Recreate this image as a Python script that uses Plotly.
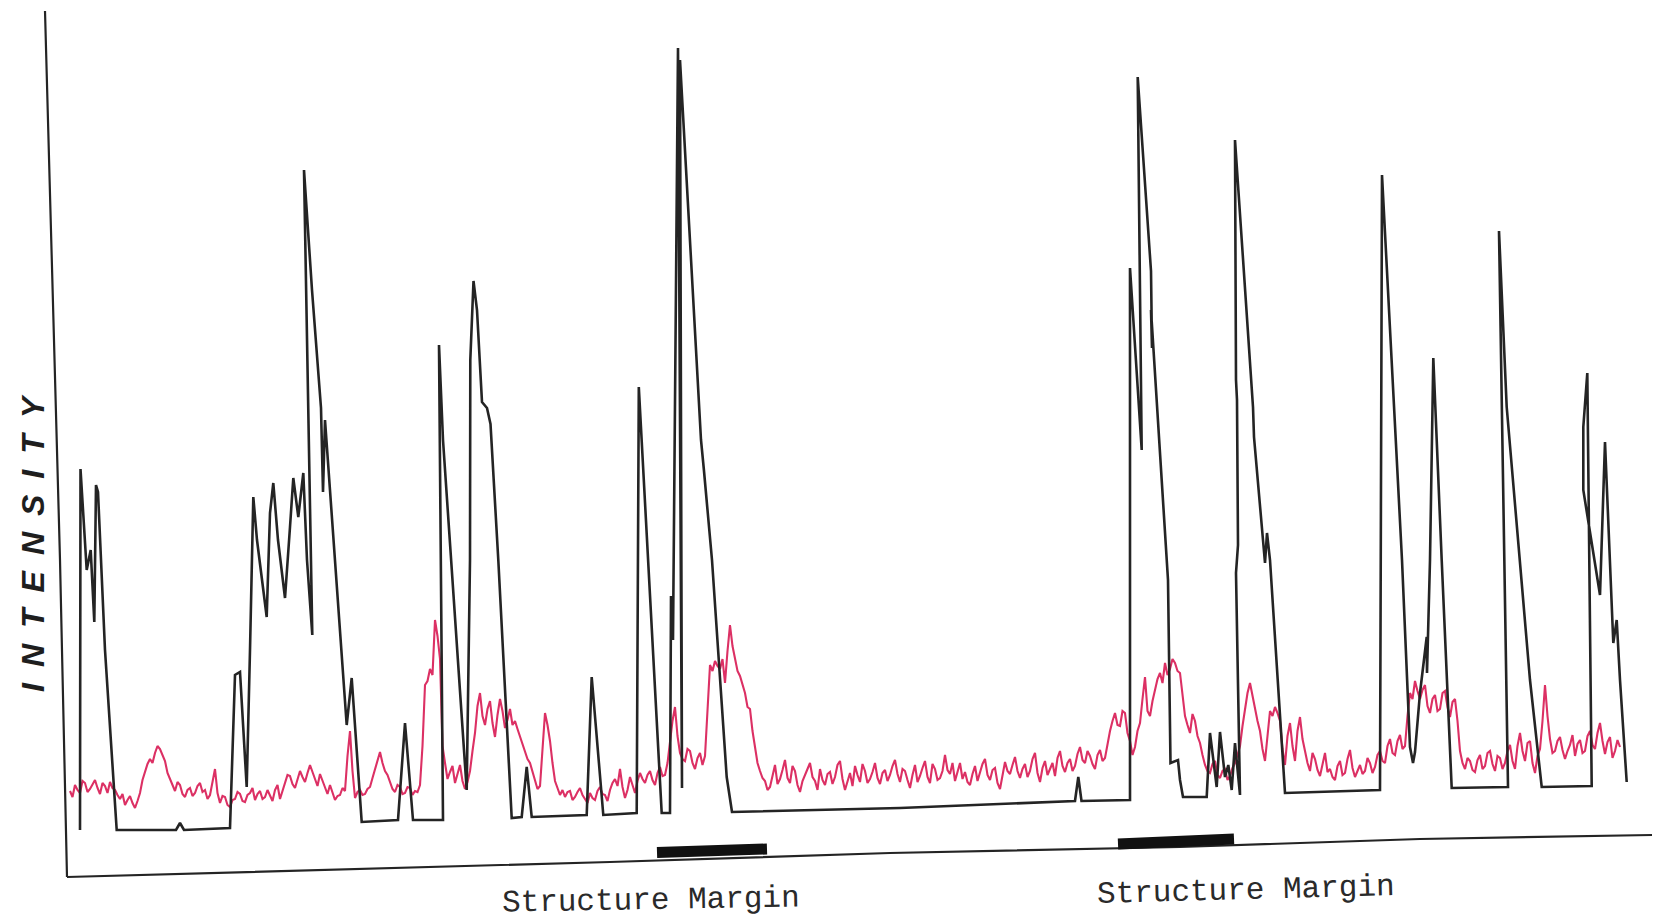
import numpy as np
import plotly.graph_objects as go

# ---- trace data (position along the scan, intensity) ----
# Black densitometer trace: (position, intensity) pairs in pen order
black_pos = [80, 80.5, 86.7, 90.7, 94.3, 96, 98, 105, 116.7, 176, 180, 184, 230,
             235, 240, 246.7, 250, 253.3, 257, 266.7, 270, 273.3, 278, 285, 290,
             293.3, 298.3, 303.3, 307, 312.3, 304, 312, 321, 323, 325, 335, 346.7,
             351.7, 361.7, 398, 405, 413, 443, 439, 443, 466.7, 470, 470.3, 473.5,
             477, 482, 487, 490.5, 498.3, 511.7, 521.7, 526.7, 531.7, 586.7, 591.7,
             603.3, 636.7, 638.8, 661.7, 670, 671, 673, 678, 682, 680, 699, 701,
             704, 712, 726.7, 732, 900, 1075, 1078.3, 1081.5, 1130, 1130, 1141.7,
             1137.7, 1151, 1152, 1151, 1168, 1170.5, 1178, 1180, 1183, 1206.7,
             1210, 1216.7, 1220, 1225, 1228.3, 1231.7, 1235, 1240, 1236, 1238,
             1237, 1236, 1235, 1253, 1254, 1265, 1267, 1270, 1285, 1380, 1382,
             1402, 1410, 1413, 1415, 1420, 1426.7, 1427, 1430, 1433.3, 1441.7,
             1446.7, 1451.7, 1508, 1499, 1506.7, 1530, 1541.7, 1591.7, 1587.3,
             1583.3, 1583.3, 1600, 1605, 1613.3, 1616.7, 1620, 1626.7]
black_int = [91, 452, 351, 371, 299, 436, 429, 271, 91, 91, 98, 91, 93,
             246, 249, 134, 271, 424, 381, 304, 408, 438, 381, 323, 394,
             443, 404, 448, 361, 286, 751, 631, 513, 429, 501, 361, 196,
             243, 99, 101, 198, 101, 101, 576, 481, 131, 361, 561, 640,
             611, 519, 513, 497, 361, 103, 104, 154, 104, 106, 244,
             106, 108, 534, 108, 108, 325, 281, 873, 133, 861, 519, 481,
             450, 361, 144, 109, 113, 120, 144, 120, 121, 653, 471,
             844, 650, 573, 611, 341, 158, 161, 141, 124, 124,
             188, 134, 189, 144, 156, 131, 178, 126, 348, 376,
             521, 541, 781, 514, 484, 358, 388, 361, 128, 131, 746,
             361, 174, 158, 169, 228, 284, 248, 361, 563, 361,
             241, 133, 134, 690, 514, 241, 134, 135, 548,
             494, 431, 326, 479, 278, 301, 241, 139]

# Pink trace: sampled every 2.5 units starting at position 70
pink_start = 70
pink_step = 2.5
pink_int = [
    130, 124, 136, 131, 128, 140, 138, 129, 132, 137, 141, 133, 127, 138, 135, 128, 139, 133, 131, 126,  # 70
    122, 127, 116, 121, 125, 118, 113, 120, 128, 141, 150, 157, 162, 158, 168, 175, 172, 165, 160, 148,  # 120
    142, 135, 130, 139, 136, 127, 124, 131, 133, 125, 128, 135, 138, 129, 131, 122, 126, 139, 152, 128,  # 170
    118, 125, 124, 116, 114, 121, 122, 129, 127, 120, 119, 126, 128, 133, 121, 127, 130, 122, 124, 131,  # 220
    126, 120, 131, 136, 122, 130, 138, 146, 145, 137, 133, 142, 150, 144, 139, 148, 156, 149, 141, 135,  # 270
    147, 140, 132, 127, 136, 128, 121, 125, 126, 133, 130, 165, 190, 150, 123, 129, 131, 126, 127, 132,  # 320
    134, 143, 152, 160, 169, 158, 150, 146, 138, 132, 129, 136, 134, 127, 128, 134, 133, 126, 130, 129,  # 370
    136, 175, 236, 240, 252, 246, 301, 285, 262, 175, 158, 142, 149, 155, 138, 146, 156, 140, 132, 139,  # 420
    150, 170, 188, 215, 228, 205, 196, 212, 220, 198, 184, 206, 222, 210, 193, 201, 212, 196, 200, 192,  # 470
    185, 176, 170, 162, 158, 150, 140, 132, 135, 170, 208, 196, 180, 158, 140, 133, 126, 131, 124, 129,  # 520
    130, 121, 124, 129, 133, 126, 122, 118, 128, 123, 121, 130, 134, 127, 126, 120, 131, 138, 142, 135,  # 570
    152, 134, 123, 131, 144, 137, 128, 140, 148, 142, 138, 146, 150, 141, 136, 148, 154, 145, 146, 158,  # 620
    180, 200, 214, 185, 168, 162, 160, 172, 170, 158, 152, 163, 168, 156, 165, 210, 256, 250, 260, 255,  # 670
    252, 262, 238, 270, 296, 275, 262, 250, 245, 236, 228, 214, 212, 190, 172, 158, 150, 143, 140, 131,  # 720
    134, 145, 156, 137, 142, 151, 161, 143, 138, 155, 150, 136, 129, 140, 147, 152, 158, 144, 140, 131,  # 770
    152, 141, 136, 147, 149, 137, 144, 156, 160, 142, 131, 139, 148, 135, 155, 146, 139, 157, 150, 138,  # 820
    142, 149, 158, 143, 137, 148, 151, 140, 146, 155, 161, 147, 139, 152, 150, 141, 133, 146, 156, 139,  # 870
    145, 153, 160, 144, 138, 157, 152, 141, 143, 150, 166, 151, 147, 158, 140, 149, 158, 142, 149, 139,  # 920
    136, 147, 155, 140, 149, 157, 162, 146, 141, 151, 153, 138, 132, 145, 159, 150, 147, 156, 164, 150,  # 970
    143, 152, 157, 144, 150, 162, 168, 148, 139, 153, 160, 146, 152, 158, 145, 163, 170, 155, 149, 158,  # 1020
    162, 150, 155, 167, 174, 161, 158, 170, 165, 157, 152, 166, 171, 160, 163, 178, 190, 200, 208, 196,  # 1070
    195, 210, 208, 188, 180, 166, 174, 190, 198, 222, 244, 210, 205, 220, 232, 242, 248, 238, 258, 246,  # 1120
    252, 262, 258, 250, 248, 224, 205, 196, 188, 207, 200, 185, 178, 166, 156, 150, 148, 157, 160, 146,  # 1170
    143, 150, 152, 141, 145, 153, 158, 166, 175, 195, 210, 228, 238, 225, 212, 200, 190, 172, 160, 185,  # 1220
    210, 205, 214, 208, 200, 172, 156, 185, 198, 175, 160, 190, 204, 182, 170, 158, 150, 168, 162, 151,  # 1270
    145, 157, 168, 149, 152, 144, 141, 155, 160, 146, 148, 162, 171, 153, 144, 150, 156, 147, 150, 163,  # 1320
    158, 148, 154, 166, 170, 160, 158, 175, 182, 168, 166, 180, 186, 172, 175, 205, 228, 222, 240, 230,  # 1370
    222, 231, 236, 215, 208, 222, 226, 210, 212, 228, 230, 214, 204, 219, 222, 200, 170, 158, 152, 163,  # 1420
    160, 151, 149, 161, 166, 152, 155, 168, 170, 157, 150, 165, 163, 152, 158, 170, 176, 160, 152, 175,  # 1470
    188, 170, 160, 178, 180, 158, 148, 165, 172, 200, 236, 205, 182, 168, 170, 180, 184, 171, 162, 170,  # 1520
    176, 186, 165, 177, 181, 168, 170, 185, 190, 176, 172, 188, 198, 180, 167, 179, 184, 163, 170, 181,  # 1570
    174,                                                                                                # 1620
]
pink_pos = pink_start + pink_step * np.arange(len(pink_int))

# Hand-drawn frame (vertical and horizontal axis strokes)
yaxis_pos = [45, 60, 67]
yaxis_int = [910, 361, 44]
xaxis_pos = [67, 330, 610, 890, 1180, 1420, 1652]
xaxis_int = [44, 51, 59, 68, 74, 82, 86]

# Structure margin bars along the baseline: (start, end, level_start, level_end)
margins = [(657, 767, 68.5, 72), (1118, 1234, 77, 82)]
margin_label = "Structure Margin"
label_pos = [(651, 21, -1.0), (1246, 31, -1.5)]

INK = "#242424"
PINK = "#dc3064"

fig = go.Figure()

fig.add_trace(go.Scatter(x=yaxis_pos, y=yaxis_int, mode="lines",
                         line=dict(color=INK, width=2.2), hoverinfo="skip"))
fig.add_trace(go.Scatter(x=xaxis_pos, y=xaxis_int, mode="lines",
                         line=dict(color=INK, width=2.2), hoverinfo="skip"))

fig.add_trace(go.Scatter(x=pink_pos, y=pink_int, mode="lines",
                         line=dict(color=PINK, width=2.1), name="pink"))
fig.add_trace(go.Scatter(x=black_pos, y=black_int, mode="lines",
                         line=dict(color=INK, width=2.6), name="black"))

for x0, x1, y0, y1 in margins:
    fig.add_shape(type="line", x0=x0, x1=x1, y0=y0, y1=y1,
                  xref="x", yref="y", line=dict(color="#111111", width=11))

for x, y, ang in label_pos:
    fig.add_annotation(x=x, y=y, xref="x", yref="y", text=margin_label,
                       showarrow=False, textangle=ang,
                       font=dict(family="Liberation Mono, Courier New, monospace",
                                 size=31, color="#2a2a2a"))

fig.add_annotation(x=33, y=378, xref="x", yref="y",
                   text="<b><i>" + "\u2002".join("INTENSITY") + "</i></b>",
                   showarrow=False, textangle=-90,
                   font=dict(family="Liberation Sans, Arial, sans-serif",
                             size=32, color="#1e1e1e"))

fig.update_layout(
    width=1661, height=921,
    margin=dict(l=0, r=0, t=0, b=0),
    paper_bgcolor="white", plot_bgcolor="white",
    showlegend=False,
    xaxis=dict(range=[0, 1661], visible=False, fixedrange=True),
    yaxis=dict(range=[0, 921], visible=False, fixedrange=True),
)

fig.write_html("out.html")
